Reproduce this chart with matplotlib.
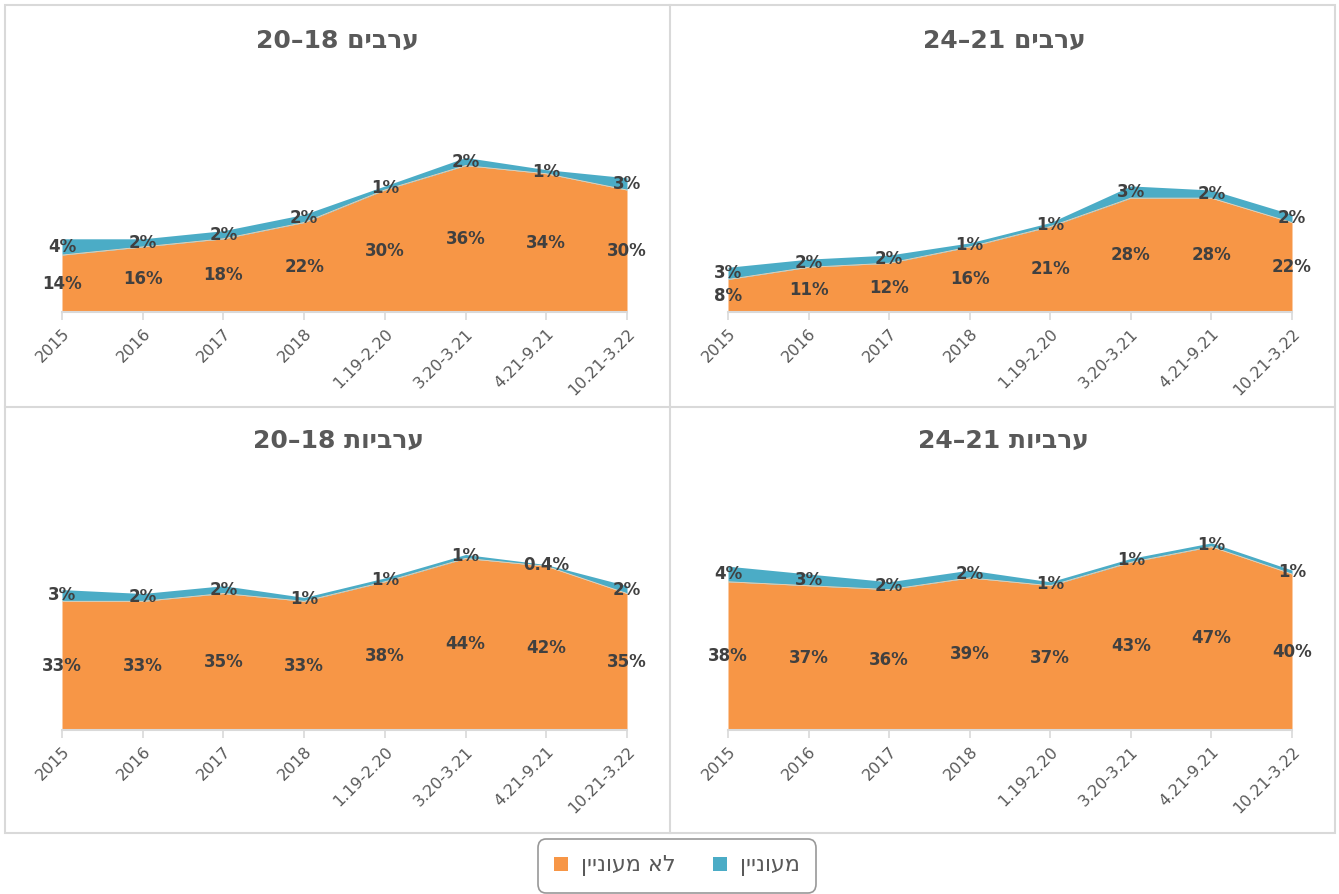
import re
import matplotlib
matplotlib.use("Agg")
import matplotlib.pyplot as plt
from matplotlib.patches import Rectangle, Patch
from matplotlib.lines import Line2D

plt.rcParams['font.family'] = ['DejaVu Sans']

W, H = 1339, 894

categories = ["2015", "2016", "2017", "2018", "1.19-2.20", "3.20-3.21", "4.21-9.21", "10.21-3.22"]

series_names = ["לא מעוניין", "מעוניין"]

titles = ["ערבים 18–20", "ערבים 21–24", "ערביות 18–20", "ערביות 21–24"]

men_18_20_not = [14, 16, 18, 22, 30, 36, 34, 30]
men_18_20_int = [4, 2, 2, 2, 1, 2, 1, 3]
men_21_24_not = [8, 11, 12, 16, 21, 28, 28, 22]
men_21_24_int = [3, 2, 2, 1, 1, 3, 2, 2]
women_18_20_not = [33, 33, 35, 33, 38, 44, 42, 35]
women_18_20_int = [3, 2, 2, 1, 1, 1, 0.4, 2]
women_21_24_not = [38, 37, 36, 39, 37, 43, 47, 40]
women_21_24_int = [4, 3, 2, 2, 1, 1, 1, 1]

ORANGE = "#F79646"
BLUE = "#4BACC6"
LABEL = "#404040"
TITLE = "#595959"
GRID = "#D9D9D9"


def vis(s):
    """Naive RTL -> visual LTR: reverse everything, keep digit runs in LTR order."""
    r = s[::-1]
    return re.sub(r"[0-9.]+", lambda m: m.group(0)[::-1], r)


def px(x0, ytop, w, h):
    return [x0 / W, 1 - (ytop + h) / H, w / W, h / H]


fig = plt.figure(figsize=(W / 100, H / 100), dpi=100)

panels = [
    (px(62, 312 - 244, 565, 244), titles[0], men_18_20_not, men_18_20_int, (337, 41)),
    (px(728, 312 - 244, 564, 244), titles[1], men_21_24_not, men_21_24_int, (1004, 41)),
    (px(62, 730 - 234, 565, 234), titles[2], women_18_20_not, women_18_20_int, (338, 441)),
    (px(728, 730 - 234, 564, 234), titles[3], women_21_24_not, women_21_24_int, (1003, 441)),
]

x = list(range(len(categories)))
for rect, title, s_not, s_int, tpos in panels:
    ax = fig.add_axes(rect)
    top = [a + b for a, b in zip(s_not, s_int)]
    ax.fill_between(x, 0, s_not, color=ORANGE, lw=0)
    ax.fill_between(x, s_not, top, color=BLUE, lw=0)
    ax.plot(x, s_not, color="#FBD3B0", lw=0.6)
    ax.set_xlim(0, len(categories) - 1)
    ax.set_ylim(0, 60)
    for sp in ["left", "top", "right"]:
        ax.spines[sp].set_visible(False)
    ax.spines["bottom"].set_color(GRID)
    ax.spines["bottom"].set_linewidth(1.5)
    ax.set_yticks([])
    ax.set_xticks(x)
    ax.set_xticklabels(categories, rotation=45, ha="right", va="top",
                       rotation_mode="anchor", fontsize=11.5, color=TITLE)
    ax.tick_params(axis="x", direction="out", length=6, width=1.2, color=GRID, pad=4)
    ax.patch.set_visible(False)
    for i in x:
        ax.text(i, s_not[i] / 2, f"{s_not[i]:g}%", ha="center", va="center",
                fontsize=12, fontweight="bold", color=LABEL)
        ax.text(i, s_not[i] + s_int[i] / 2, f"{s_int[i]:g}%", ha="center", va="center",
                fontsize=12, fontweight="bold", color=LABEL)
    fig.text(tpos[0] / W, 1 - tpos[1] / H, vis(title), ha="center", va="center",
             fontsize=18, fontweight="bold", color=TITLE)

# panel borders
fig.add_artist(Rectangle((5 / W, 1 - 833 / H), 1330 / W, 828 / H, transform=fig.transFigure,
                         fill=False, edgecolor=GRID, lw=1.5))
fig.add_artist(Line2D([670 / W, 670 / W], [1 - 5 / H, 1 - 833 / H], transform=fig.transFigure,
                      color=GRID, lw=1.5))
fig.add_artist(Line2D([5 / W, 1335 / W], [1 - 407 / H, 1 - 407 / H], transform=fig.transFigure,
                      color=GRID, lw=1.5))

handles = [Patch(facecolor=ORANGE, edgecolor="none"), Patch(facecolor=BLUE, edgecolor="none")]
leg = fig.legend(handles, [vis(n) for n in series_names], ncol=2,
                 loc="center", bbox_to_anchor=(677 / W, 1 - 866 / H),
                 fontsize=16, handlelength=0.6, handleheight=0.6, handletextpad=0.6,
                 columnspacing=1.7, frameon=True, fancybox=True,
                 borderpad=0.75, labelcolor=TITLE)
leg.get_frame().set_edgecolor("#7F7F7F")
leg.get_frame().set_linewidth(1.2)
leg.get_frame().set_boxstyle("round,pad=0,rounding_size=0.4")

fig.savefig("out.png", dpi=100)
